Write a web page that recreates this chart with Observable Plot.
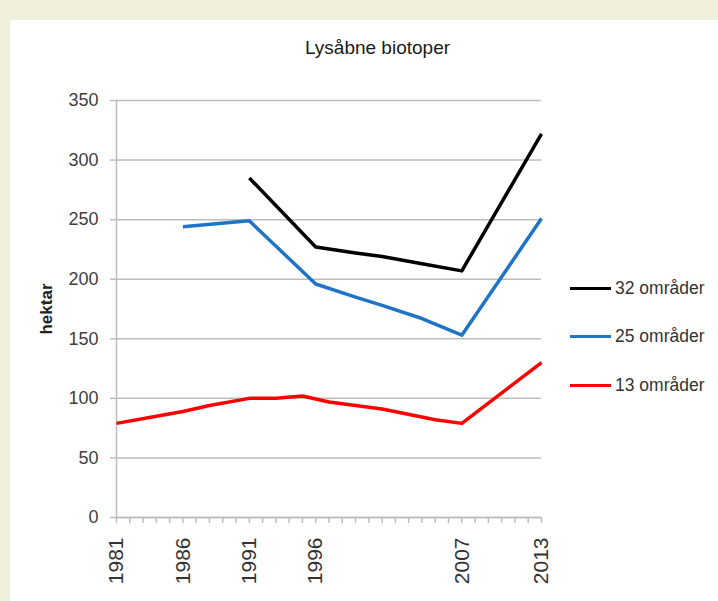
<!DOCTYPE html>
<html>
<head>
<meta charset="utf-8">
<script src="https://cdn.jsdelivr.net/npm/d3@7"></script>
<script src="https://cdn.jsdelivr.net/npm/@observablehq/plot@0.6"></script>
<style>
  html, body { margin: 0; padding: 0; background: #f0f0dc; width: 718px; height: 601px; overflow: hidden; }
  #panel { position: absolute; left: 10px; top: 20px; width: 708px; height: 581px; background: #ffffff; }
  #title { position: absolute; left: 0; width: 735px; top: 17px; text-align: center; font-family: "Liberation Sans", Arial, sans-serif; font-size: 19px; color: #1a1a1a; }
  #legend { position: absolute; left: 560px; top: 258px; font-family: "Liberation Sans", Arial, sans-serif; font-size: 17.5px; color: #333; }
  .item { position: absolute; white-space: nowrap; display: flex; align-items: center; }
  .swatch { display: inline-block; width: 41px; height: 3.5px; margin-right: 4px; }
  #chart { position: absolute; left: 0; top: 0; }
</style>
</head>
<body>
<div id="panel">
  <div id="chart"></div>
  <div id="title"></div>
  <div id="legend"></div>
</div>
<script>
// ---- data ----
const titleText = "Lysåbne biotoper";
const yLabel = "hektar";
const allYears = d3.range(1981, 2014);
const labelYears = [1981, 1986, 1991, 1996, 2007, 2013];
const yTicks = [0, 50, 100, 150, 200, 250, 300, 350];

const seriesNames = ["32 områder", "25 områder", "13 områder"];
const seriesColors = ["#000000", "#1f74c6", "#ff0000"];

const years32 = [1991, 1996, 1999, 2001, 2004, 2007, 2013];
const values32 = [285, 227, 222, 219, 213, 207, 322];

const years25 = [1986, 1991, 1996, 1999, 2001, 2004, 2007, 2013];
const values25 = [244, 249, 196, 185, 178, 167, 153, 251];

const years13 = [1981, 1984, 1986, 1988, 1991, 1993, 1995, 1997, 2001, 2005, 2007, 2013];
const values13 = [79, 85, 89, 94, 100, 100, 102, 97, 91, 82, 79, 130];

// ---- build table ----
const rows = [];
[[years32, values32], [years25, values25], [years13, values13]].forEach(([ys, vs], i) => {
  ys.forEach((yr, j) => rows.push({series: seriesNames[i], year: yr, value: vs[j]}));
});

const font = '"Liberation Sans", Arial, sans-serif';

const chart = Plot.plot({
  width: 708,
  height: 581,
  marginLeft: 106,
  marginTop: 80,
  marginBottom: 84,
  marginRight: 177,
  style: { fontFamily: font, fontSize: "18px", color: "#404040", background: "transparent" },
  x: { domain: [1981, 2013] },
  y: { domain: [0, 350] },
  color: { domain: seriesNames, range: seriesColors },
  marks: [
    Plot.gridY(yTicks, { stroke: "#bdbdbd", strokeOpacity: 1, strokeWidth: 1.5 }),
    Plot.ruleX([1981], { stroke: "#bdbdbd", strokeWidth: 1.5 }),
    Plot.ruleY([0], { stroke: "#bdbdbd", strokeWidth: 1.5 }),
    Plot.axisY(yTicks, {
      tickSize: 6, stroke: "#bdbdbd", strokeWidth: 1.5, tickPadding: 12,
      fill: "#404040", fontSize: 18,
      label: yLabel, labelAnchor: "center", labelArrow: "none", labelOffset: 77
    }),
    Plot.axisX(allYears, {
      tickSize: 6, stroke: "#bdbdbd", strokeWidth: 1.5, tickPadding: 14,
      tickRotate: -90, fontSize: 21, fill: "#333",
      tickFormat: d => labelYears.includes(d) ? String(d) : "",
      label: null
    }),
    Plot.line(rows, {
      x: "year", y: "value", z: "series", stroke: "series",
      strokeWidth: 3.5, strokeLinejoin: "round", strokeLinecap: "butt"
    })
  ]
});
document.getElementById("chart").appendChild(chart);

// bold the y label
chart.querySelectorAll("text").forEach(t => {
  if (t.textContent === yLabel) { t.style.fontWeight = "bold"; t.style.fontSize = "17px"; t.style.fill = "#222"; }
});

document.getElementById("title").textContent = titleText;

const legend = document.getElementById("legend");
const legendTops = [0, 48, 97];
seriesNames.forEach((n, i) => {
  const d = document.createElement("div");
  d.className = "item";
  d.style.top = legendTops[i] + "px";
  const sw = document.createElement("span");
  sw.className = "swatch";
  sw.style.background = seriesColors[i];
  d.appendChild(sw);
  d.appendChild(document.createTextNode(n));
  legend.appendChild(d);
});
</script>
</body>
</html>
